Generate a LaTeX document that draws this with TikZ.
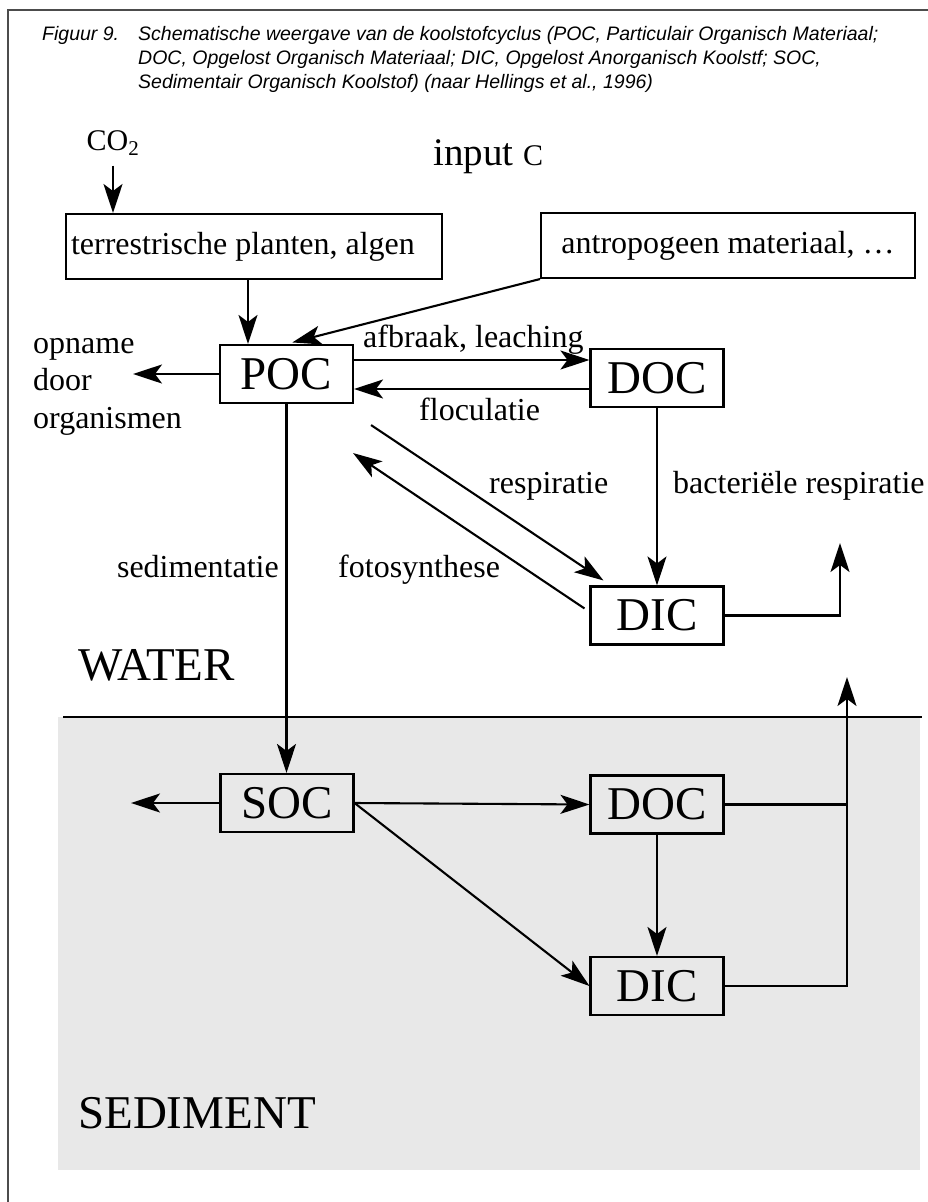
\documentclass[tikz,border=0pt]{standalone}
\usepackage{fontspec}
\setmainfont{Liberation Serif}
\setsansfont{Liberation Sans}
\usetikzlibrary{arrows.meta}

\begin{document}
\begin{tikzpicture}[
  x=1pt, y=-1pt,
  every node/.style={inner sep=0pt},
  figcap/.style={font=\sffamily\itshape\fontsize{19.5}{24}\selectfont},
  lbl/.style={font=\fontsize{32}{37.5}\selectfont},
  big/.style={font=\fontsize{47}{47}\selectfont},
  box/.style={draw, line width=2.1pt, big, minimum width=133pt, minimum height=58pt},
  wide/.style={draw, line width=2.1pt, lbl, minimum height=65pt},
  arr/.style={-{Stealth[length=29pt, width=19pt, inset=7pt]}, line width=2.1pt},
  link/.style={line width=2.1pt}
]
\useasboundingbox (0,0) rectangle (928,1202);

% sediment layer and frame
\fill[black!9] (58,717) rectangle (920,1170);
\draw[link] (63,717) -- (922,717);
\draw[black!70, line width=1.6pt] (8,1202) -- (8,10) -- (928,10);

% caption
\node[figcap, anchor=base west] (fignum) at (42,40) {Figuur 9.};
\node[figcap, anchor=base west, align=left] (caption) at (138,88)
  {Schematische weergave van de koolstofcyclus (POC, Particulair Organisch Materiaal;\\
   DOC, Opgelost Organisch Materiaal; DIC, Opgelost Anorganisch Koolstf; SOC,\\
   Sedimentair Organisch Koolstof) (naar Hellings et al., 1996)};

% inputs
\node[font=\fontsize{30}{30}\selectfont, anchor=base] (co2) at (113,150) {CO\textsubscript{2}};
\node[font=\fontsize{39}{39}\selectfont, anchor=base west] (input) at (433,165)
  {input {\fontsize{30}{30}\selectfont C}};
\node[wide, anchor=north west, minimum width=376pt, text width=366pt,
      inner xsep=5pt, align=flush left] (plants) at (65,213) {terrestrische planten, algen};
\node[wide, minimum width=374pt] (anthro) at (728,245.5) {antropogeen materiaal, …};

% water column
\node[box] (poc) at (286.5,374) {POC};
\node[box] (doc) at (657,378) {DOC};
\node[box] (dic) at (657,615.5) {DIC};
\node[lbl, anchor=base west, align=left] (uptake) at (33,428) {opname\\door\\organismen};
\coordinate (uptake-end) at (133,374);
\coordinate (dic-out) at (840,543);
\node[big, anchor=base west] (water) at (78,680) {WATER};

% sediment
\node[box] (soc) at (287,803) {SOC};
\node[box] (sdoc) at (657,804.5) {DOC};
\node[box] (sdic) at (657,986) {DIC};
\coordinate (soc-out) at (131,803);
\coordinate (sed-out) at (847,677);
\node[big, anchor=base west] (sediment) at (78,1128) {SEDIMENT};

% flow labels
\node[lbl, anchor=base west] (afbraak) at (363,347) {afbraak, leaching};
\node[lbl, anchor=base west] (floc) at (419,420) {floculatie};
\node[lbl, anchor=base west] (resp) at (489,493) {respiratie};
\node[lbl, anchor=base west] (bresp) at (673,493) {bacteriële respiratie};
\node[lbl, anchor=base west] (foto) at (338,577) {fotosynthese};
\node[lbl, anchor=base east] (sedim) at (279,577) {sedimentatie};

% helper points
\coordinate (poc-in) at ([xshift=-38.5pt]poc.north);
\coordinate (poc-r1) at ([yshift=14pt]poc.east);
\coordinate (doc-l2) at ([yshift=-11pt]doc.west);
\coordinate (resp-a) at ([xshift=17pt, yshift=-21pt]poc.south east);
\coordinate (resp-b) at ([xshift=14pt, yshift=5pt]dic.north west);
\coordinate (foto-a) at ([xshift=-5pt, yshift=-23pt]dic.north west);
\coordinate (foto-b) at ([xshift=-1pt, yshift=-49pt]poc.south east);

% flows
\draw[arr, shorten <=10pt] (co2) -- (co2 |- plants.north);
\draw[arr] (plants.south -| poc-in) -- (poc-in);
\draw[arr, shorten >=6pt] (anthro.south west) -- (poc.north);
\draw[arr] (poc.west) -- (uptake-end);
\draw[arr] (poc-r1) -- (poc-r1 -| doc.west);
\draw[arr] (doc-l2) -- (doc-l2 -| poc.east);
\draw[arr] (resp-a) -- (resp-b);
\draw[arr] (foto-a) -- (foto-b);
\draw[arr] (doc) -- (dic);
\draw[arr] (dic.east) -| (dic-out);
\draw[arr] (poc.south) -- (poc.south |- soc.north);
\draw[arr] (soc.west) -- (soc-out);
\draw[arr] (soc.east) -- (sdoc.west);
\draw[arr] (soc.east) -- (sdic.west);
\draw[arr] (sdoc) -- (sdic);
\draw[link] (sdoc.east) -- (sdoc.east -| sed-out);
\draw[arr] (sdic.east) -| (sed-out);

\end{tikzpicture}
\end{document}
